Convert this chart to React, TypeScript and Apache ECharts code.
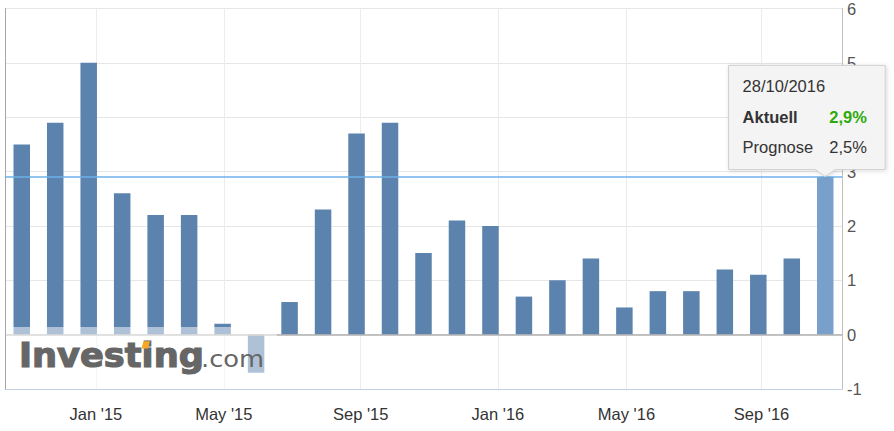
import React, { useEffect, useRef } from 'react';
import * as echarts from 'echarts';

// Release dates (ordinal axis: bars evenly spaced, ticks interpolated between releases)
const releaseDates = [
  '2014-10-30', '2014-11-28', '2014-12-24', '2015-01-30', '2015-02-27', '2015-03-30',
  '2015-04-30', '2015-05-29', '2015-06-30', '2015-07-30', '2015-08-28', '2015-09-29',
  '2015-10-30', '2015-11-27', '2015-12-24', '2016-01-29', '2016-02-29', '2016-03-30',
  '2016-04-29', '2016-05-31', '2016-06-30', '2016-07-29', '2016-08-29', '2016-09-29',
  '2016-10-28',
];
const actualValues = [
  3.5, 3.9, 5.0, 2.6, 2.2, 2.2, 0.2, -0.7, 0.6, 2.3, 3.7, 3.9,
  1.5, 2.1, 2.0, 0.7, 1.0, 1.4, 0.5, 0.8, 0.8, 1.2, 1.1, 1.4, 2.9,
];
const lastForecast = 2.5;
const tickDates = ['2015-01-01', '2015-05-01', '2015-09-01', '2016-01-01', '2016-05-01', '2016-09-01'];
const tickLabels = ["Jan '15", "May '15", "Sep '15", "Jan '16", "May '16", "Sep '16"];
const yMin = -1;
const yMax = 6;
const yStep = 1;

const FONT = '"Liberation Sans", Arial, sans-serif';

function ordinalPos(dateStr: string): number {
  const t = Date.parse(dateStr);
  const ts = releaseDates.map((d) => Date.parse(d));
  for (let i = 0; i < ts.length - 1; i++) {
    if (t >= ts[i] && t <= ts[i + 1]) return i + (t - ts[i]) / (ts[i + 1] - ts[i]);
  }
  return t < ts[0] ? 0 : ts.length - 1;
}

const fmtPct = (v: number) => v.toFixed(1).replace('.', ',') + '%';
const fmtDate = (d: string) => {
  const [y, m, day] = d.split('-');
  return `${day}/${m}/${y}`;
};

export default function App() {
  const ref = useRef<HTMLDivElement>(null);

  useEffect(() => {
    if (!ref.current) return;
    const chart = echarts.init(ref.current, null, { renderer: 'svg' });
    const tickPos = tickDates.map(ordinalPos);
    const last = actualValues.length - 1;

    chart.setOption({
      animation: false,
      textStyle: { fontFamily: FONT },
      grid: { left: 5, right: 52, top: 7, bottom: 42, containLabel: false },
      xAxis: {
        type: 'value',
        min: -0.5,
        max: actualValues.length - 0.5,
        axisLine: { show: true, onZero: false, lineStyle: { color: '#c0d0e0', width: 1 } },
        axisTick: { show: false, customValues: tickPos },
        axisLabel: {
          customValues: tickPos,
          color: '#333',
          fontSize: 16.5,
          fontFamily: FONT,
          margin: 16,
          formatter: (v: number) => {
            const idx = tickPos.findIndex((p) => Math.abs(p - v) < 1e-6);
            return idx >= 0 ? tickLabels[idx] : '';
          },
        },
        splitLine: { show: true, lineStyle: { color: '#ececec', width: 1 } },
      },
      yAxis: [
        {
          type: 'value',
          position: 'right',
          min: yMin,
          max: yMax,
          interval: yStep,
          axisLine: { show: true, onZero: false, lineStyle: { color: '#c0c0c0', width: 1 } },
          axisTick: { show: false },
          axisLabel: { color: '#555', fontSize: 16.5, fontFamily: FONT, margin: 5 },
          splitLine: { show: true, lineStyle: { color: '#e6e6e6', width: 1 } },
        },
        {
          type: 'value',
          position: 'left',
          min: yMin,
          max: yMax,
          interval: yStep,
          axisLine: { show: true, onZero: false, lineStyle: { color: '#a6a6a6', width: 1 } },
          axisTick: { show: false },
          axisLabel: { show: false },
          splitLine: { show: false },
        },
      ],
      series: [
        {
          type: 'bar',
          barWidth: 16.5,
          itemStyle: { color: '#5c83ad' },
          data: actualValues.map((v, i) =>
            i === last ? { value: [i, v], itemStyle: { color: '#79a0cb' } } : [i, v]
          ),
          markLine: {
            silent: true,
            symbol: ['none', 'none'],
            label: { show: false },
            data: [
              { yAxis: 0, lineStyle: { color: '#b0b0b0', width: 1.5, type: 'solid' } },
              { yAxis: actualValues[last], lineStyle: { color: '#6cb0e8', width: 1.5, type: 'solid' } },
            ],
          },
        },
      ],
    });

    const [px, py] = chart.convertToPixel({ xAxisIndex: 0, yAxisIndex: 0 }, [last, actualValues[last]]) as number[];
    const L = px - 96.7;
    const R = px + 60;
    const T = py - 111.7;
    const B = py - 7.4;

    // y labels fully hidden behind the tooltip box are not drawn (as in the reference)
    const hiddenByTooltip = (v: number) => {
      const y = chart.convertToPixel({ yAxisIndex: 0 }, v) as number;
      return y > T + 6 && y < B - 6;
    };

    chart.setOption({
      yAxis: [
        { axisLabel: { formatter: (v: number) => (hiddenByTooltip(v) ? '' : String(v)) } },
        {},
      ],
      graphic: [
        {
          type: 'rect',
          z: 10,
          silent: true,
          shape: { x: 6, y: 327, width: 271, height: 62 },
          style: { fill: 'rgba(255,255,255,0.5)' },
        },
        {
          type: 'text',
          z: 11,
          silent: true,
          x: 19,
          y: 355.6,
          scaleX: 1.05,
          style: {
            text: 'Investing',
            fontFamily: '"DejaVu Sans"',
            fontWeight: 'bold',
            fontSize: 33.5,
            fill: '#666',
            stroke: '#666',
            lineWidth: 1.2,
            align: 'left',
            verticalAlign: 'middle',
          },
        },
        {
          type: 'text',
          z: 11,
          silent: true,
          x: 201,
          y: 359.3,
          scaleX: 1.12,
          style: {
            text: '.com',
            fontFamily: '"DejaVu Sans"',
            fontSize: 23,
            fill: '#666',
            align: 'left',
            verticalAlign: 'middle',
          },
        },
        {
          type: 'polygon',
          z: 12,
          silent: true,
          shape: { points: [[143.5, 341.2], [150, 341.2], [148, 348.6], [141.5, 348.6]] },
          style: { fill: '#f7a823' },
        },
        {
          type: 'group',
          z: 20,
          silent: true,
          children: [
            {
              type: 'polygon',
              z: 20,
              shape: {
                points: [[L, T], [R, T], [R, B], [px + 10, B], [px, py - 0.5], [px - 10, B], [L, B]],
              },
              style: {
                fill: '#f4f4f4',
                stroke: '#cfcfcf',
                lineWidth: 1,
                shadowBlur: 4,
                shadowColor: 'rgba(0,0,0,0.15)',
                shadowOffsetX: 1,
                shadowOffsetY: 1,
              },
            },
            {
              type: 'text',
              z: 21,
              x: L + 14,
              y: T + 21,
              style: { text: fmtDate(releaseDates[last]), fontFamily: FONT, fontSize: 16.5, fill: '#333', align: 'left', verticalAlign: 'middle' },
            },
            {
              type: 'text',
              z: 21,
              x: L + 14,
              y: T + 51.7,
              style: { text: 'Aktuell', fontFamily: FONT, fontWeight: 'bold', fontSize: 16.5, fill: '#333', align: 'left', verticalAlign: 'middle' },
            },
            {
              type: 'text',
              z: 21,
              x: R - 18.3,
              y: T + 51.7,
              style: { text: fmtPct(actualValues[last]), fontFamily: FONT, fontWeight: 'bold', fontSize: 16.5, fill: '#2daa0a', align: 'right', verticalAlign: 'middle' },
            },
            {
              type: 'text',
              z: 21,
              x: L + 14,
              y: T + 81.7,
              style: { text: 'Prognose', fontFamily: FONT, fontSize: 16.5, fill: '#333', align: 'left', verticalAlign: 'middle' },
            },
            {
              type: 'text',
              z: 21,
              x: R - 18.3,
              y: T + 81.7,
              style: { text: fmtPct(lastForecast), fontFamily: FONT, fontSize: 16.5, fill: '#333', align: 'right', verticalAlign: 'middle' },
            },
          ],
        },
      ],
    });

    return () => chart.dispose();
  }, []);

  return (
    <div
      ref={ref}
      style={{ position: 'fixed', left: 0, top: 0, width: 894, height: 431, background: '#fff' }}
    />
  );
}
